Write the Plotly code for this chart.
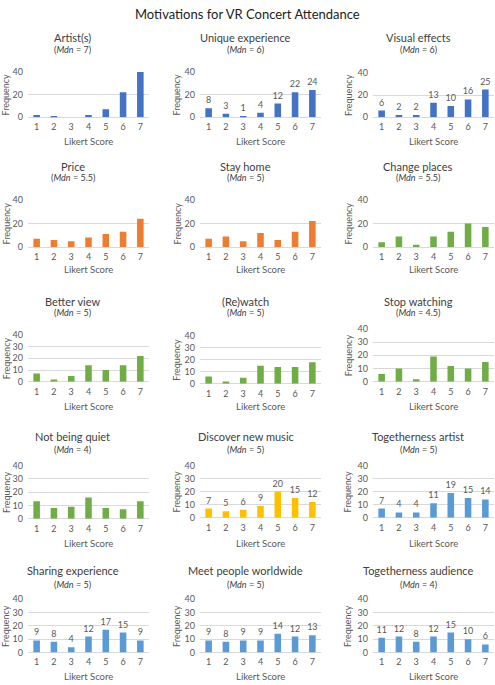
import plotly.graph_objects as go

likert = [1, 2, 3, 4, 5, 6, 7]

titles = ["Artist(s)", "Unique experience", "Visual effects",
          "Price", "Stay home", "Change places",
          "Better view", "(Re)watch", "Stop watching",
          "Not being quiet", "Discover new music", "Togetherness artist",
          "Sharing experience", "Meet people worldwide", "Togetherness audience"]
medians = ["7", "6", "6", "5.5", "5", "5.5", "5", "5", "4.5", "4", "5", "5", "5", "5", "4"]

artist = [2, 1, 0, 2, 7, 22, 40]
unique_experience = [8, 3, 1, 4, 12, 22, 24]
visual_effects = [6, 2, 2, 13, 10, 16, 25]
price = [7, 6, 5, 8, 11, 13, 24]
stay_home = [7, 9, 5, 12, 6, 13, 22]
change_places = [4, 9, 2, 9, 13, 20, 17]
better_view = [7, 2, 5, 14, 10, 14, 22]
rewatch = [6, 2, 5, 15, 14, 14, 18]
stop_watching = [6, 10, 2, 19, 12, 10, 15]
not_being_quiet = [13, 8, 9, 16, 8, 7, 13]
discover_new_music = [7, 5, 6, 9, 20, 15, 12]
togetherness_artist = [7, 4, 4, 11, 19, 15, 14]
sharing_experience = [9, 8, 4, 12, 17, 15, 9]
meet_people_worldwide = [9, 8, 9, 9, 14, 12, 13]
togetherness_audience = [11, 12, 8, 12, 15, 10, 6]

series = [artist, unique_experience, visual_effects, price, stay_home, change_places,
          better_view, rewatch, stop_watching, not_being_quiet, discover_new_music,
          togetherness_artist, sharing_experience, meet_people_worldwide, togetherness_audience]
show_labels = [False, True, True, False, False, False, False, False, False,
               False, True, True, True, True, True]

BLUE, ORANGE, GREEN, GOLD, LBLUE = "#4472C4", "#ED7D31", "#70AD47", "#FFC000", "#5B9BD5"
colors = [BLUE, BLUE, BLUE, ORANGE, ORANGE, GREEN, GREEN, GREEN, GREEN,
          GREEN, GOLD, LBLUE, LBLUE, LBLUE, LBLUE]

W, H = 495, 685
FONT = "Lato"
GREY = "#595959"

col_x = [(28, 149), (200, 321), (373, 494)]
col_title_x = [72.5, 245.5, 418]
col_ytitle_x = [6, 177, 348]
panel_y = [(67, 113), (67, 113), (68, 113),
           (197, 245), (197, 245), (197, 245),
           (334, 382), (335, 384), (328, 382),
           (467, 521), (467, 520), (467, 520),
           (603, 657), (603, 657), (603, 657)]
row_title_y = [(32, 44.5), (163, 174.5), (300, 312), (438, 451), (574, 588)]
row_xtitle_y = [137.5, 268, 407, 546, 681]
row_dtick = [20, 20, 10, 10, 10]

def px(x):
    return x / W

def py(y):
    return 1 - y / H

fig = go.Figure()
annotations = []
layout_axes = {}

for i, vals in enumerate(series):
    r, c = divmod(i, 3)
    n = "" if i == 0 else str(i + 1)
    x0, x1 = col_x[c]
    ytop, ybot = panel_y[i]
    fig.add_trace(go.Bar(
        x=likert, y=vals, marker_color=colors[i], marker_line_width=0,
        text=[str(v) for v in vals] if show_labels[i] else None,
        textposition="outside", cliponaxis=False, constraintext="none",
        textfont=dict(family=FONT, size=9, color=GREY),
        xaxis="x" + n, yaxis="y" + n, showlegend=False, hoverinfo="x+y",
    ))
    layout_axes["xaxis" + n] = dict(
        domain=[px(x0), px(x1)], anchor="y" + n, range=[0.5, 7.5],
        tickmode="array", tickvals=likert, ticktext=[str(v) for v in likert],
        showgrid=False, zeroline=False, showline=False, ticks="", ticklabelstandoff=3,
        tickfont=dict(family=FONT, size=9, color=GREY), fixedrange=True,
    )
    layout_axes["yaxis" + n] = dict(
        domain=[py(ybot), py(ytop)], anchor="x" + n, range=[0, 40],
        dtick=row_dtick[r], tick0=0, showgrid=True, gridcolor="#D9D9D9", gridwidth=1,
        zeroline=True, zerolinecolor="#D9D9D9", zerolinewidth=1, showline=False, ticks="",
        ticklabelstandoff=4,
        tickfont=dict(family=FONT, size=9, color=GREY), fixedrange=True,
    )
    t_y, m_y = row_title_y[r]
    annotations.append(dict(text=titles[i], x=px(col_title_x[c]), y=py(t_y), xref="paper", yref="paper",
                            showarrow=False, xanchor="center", yanchor="middle",
                            font=dict(family=FONT, size=11, color="#404040")))
    annotations.append(dict(text="(<i>Mdn</i> = " + medians[i] + ")", x=px(col_title_x[c]), y=py(m_y),
                            xref="paper", yref="paper", showarrow=False, xanchor="center", yanchor="middle",
                            font=dict(family=FONT, size=9, color="#404040")))
    annotations.append(dict(text="Frequency", x=px(col_ytitle_x[c]), y=py((ytop + ybot) / 2),
                            xref="paper", yref="paper", showarrow=False, textangle=-90,
                            xanchor="center", yanchor="middle",
                            font=dict(family=FONT, size=9, color=GREY)))
    annotations.append(dict(text="Likert Score", x=px((x0 + x1) / 2), y=py(row_xtitle_y[r]),
                            xref="paper", yref="paper", showarrow=False, xanchor="center", yanchor="middle",
                            font=dict(family=FONT, size=9.5, color=GREY)))

annotations.append(dict(text="Motivations for VR Concert Attendance", x=0.5, y=py(8),
                        xref="paper", yref="paper", showarrow=False, xanchor="center", yanchor="middle",
                        font=dict(family=FONT, size=13, color="#222222")))

fig.update_layout(
    width=W, height=H, margin=dict(l=0, r=0, t=0, b=0),
    paper_bgcolor="white", plot_bgcolor="white",
    bargap=0.62, annotations=annotations, **layout_axes,
)

fig.write_html("out.html", config={"displayModeBar": False})

with open("out.html", "r", encoding="utf-8") as f:
    html = f.read()
html = html.replace("<head>", "<head><style>html,body{margin:0;padding:0;overflow:hidden;}</style>", 1)
with open("out.html", "w", encoding="utf-8") as f:
    f.write(html)
